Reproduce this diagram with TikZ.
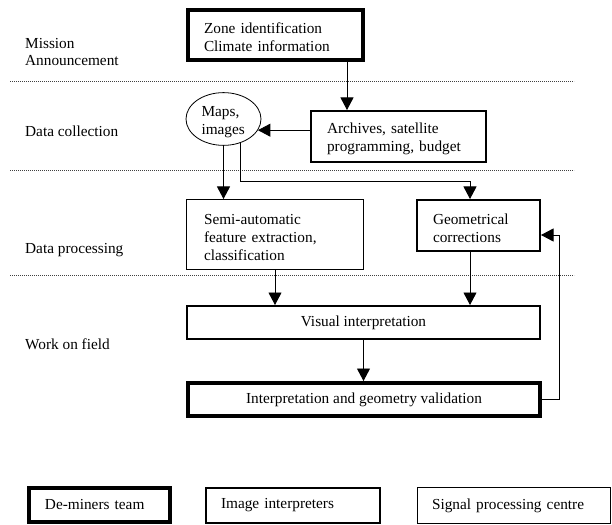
\documentclass[tikz,border=0pt]{standalone}
\usepackage{fontspec}
\setmainfont{Liberation Serif}
\usetikzlibrary{arrows.meta,shapes.geometric,calc}
\begin{document}
\begin{tikzpicture}[x=1bp,y={(0bp,-1bp)},
  every node/.style={font=\fontsize{15.3bp}{18bp}\selectfont, inner sep=0pt},
  demine/.style={draw, line width=4bp},
  interp/.style={draw, line width=2bp},
  signal/.style={draw, line width=1bp},
  lower/.style={execute at begin node={\rule{0pt}{16bp}}},
  lab/.style={anchor=base west},
  arr/.style={-{Triangle[length=12.5bp,width=13bp]}, line width=0.9bp},
  sep/.style={line width=0.8bp, dash pattern=on 0.8bp off 1.2bp, black!75}]
\useasboundingbox (0,0) rectangle (612,525);

% lane separators
\draw[sep] (10,81) -- (574,81);
\draw[sep] (10,170) -- (574,170);
\draw[sep] (10,275) -- (574,275);

% lane labels
\node[lab] (lm1) at (25,49) {Mission};
\node[lab] (lm2) at (25,66) {Announcement};
\node[lab] (ldc) at (25,137) {Data collection};
\node[lab] (ldp) at (25,253) {Data processing};
\node[lab] (lwf) at (25,349) {Work on field};

% boxes
\node[demine, lower, minimum width=175bp, minimum height=50bp, text width=143bp, align=left] (zone) at (275.5,35) {Zone identification\\Climate information};
\node[interp, lower, minimum width=175bp, minimum height=51bp, text width=143bp, align=left] (arch) at (398.5,136.5) {Archives, satellite\\programming, budget};
\node[ellipse, draw, lower, line width=0.8bp, minimum width=75bp, minimum height=52bp, text width=44bp, align=left] (maps) at (223.5,119) {Maps,\\images};
\node[signal, lower, minimum width=177bp, minimum height=70bp, text width=142bp, align=left] (semi) at (275,234.5) {Semi-automatic\\feature extraction,\\classification};
\node[interp, lower, minimum width=123bp, minimum height=51bp, text width=91bp, align=left] (geo) at (478.5,225.5) {Geometrical\\corrections};
\node[interp, minimum width=353bp, minimum height=33bp] (vis) at (363.5,322.5) {Visual interpretation};
\node[demine, minimum width=352bp, minimum height=33bp] (val) at (364,399.5) {Interpretation and geometry validation};

% legend
\node[demine, minimum width=141bp, minimum height=34bp, text width=109bp, align=left] (k1) at (99.5,505) {De-miners team};
\node[interp, minimum width=174bp, minimum height=35bp, text width=144bp, align=left] (k2) at (293,505.5) {Image interpreters};
\node[signal, minimum width=193bp, minimum height=36bp, text width=164bp, align=left] (k3) at (514,505.5) {Signal processing centre};

% connectors
\coordinate (ax) at ([xshift=-51.5bp]arch.north);
\draw[arr] (zone.south -| ax) -- (ax);
\draw[arr] (arch.west |- maps.-18) -- (maps.-18);
\draw[arr] (maps.south) -- (maps.south |- semi.north);
\coordinate (gx) at ([xshift=-8.5bp]geo.north);
\draw[arr] (maps.-55) |- ([yshift=18bp]gx) -- (gx);
\draw[arr] (semi.south) -- (semi.south |- vis.north);
\draw[arr] (geo.south -| gx) -- (gx |- vis.north);
\draw[arr] (vis.south) -- (vis.south |- val.north);
\coordinate (fb) at ([xshift=18bp,yshift=-9.5bp]geo.east);
\draw[arr] (val.east) -| (fb) -- ([yshift=-9.5bp]geo.east);
\end{tikzpicture}
\end{document}
